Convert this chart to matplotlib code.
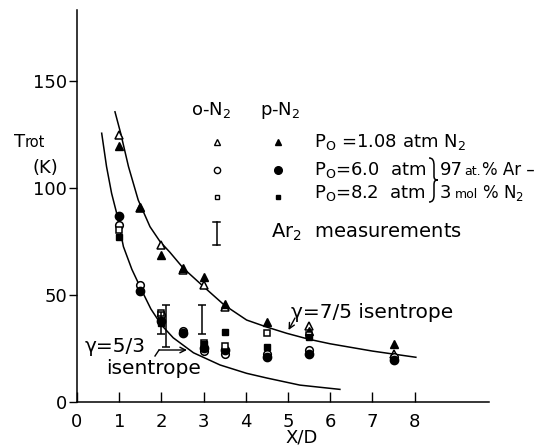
import matplotlib
matplotlib.use('Agg')
import matplotlib.pyplot as plt
from matplotlib.path import Path
from matplotlib.patches import PathPatch

plt.rcParams['font.family'] = ['DejaVu Sans']
plt.rcParams['mathtext.fontset'] = 'dejavusans'

# ---------------- data ----------------
x_otri = [1, 1.5, 2, 2.5, 3, 3.5, 5.5, 7.5]
y_otri = [124.7, 90.5, 73.4, 61.7, 54.7, 44.3, 35.3, 22.5]
x_ftri = [1, 1.5, 2, 2.5, 3, 3.5, 4.5, 5.5, 7.5]
y_ftri = [119.6, 91.3, 68.7, 62.5, 58.3, 45.9, 37.6, 33.0, 27.2]
x_circ = [1, 1.5, 2, 2.5, 3, 3.5, 4.5, 5.5, 7.5]
y_ocirc = [82.7, 54.7, 40.7, 33.0, 23.6, 22.4, 22.5, 24.4, 21.0]
y_fcirc = [86.9, 52.1, 38.0, 32.2, 25.2, 24.5, 21.0, 22.4, 19.8]
x_sq = [1, 2, 3, 3.5, 4.5, 5.5]
y_osq = [80.4, 41.5, 27.8, 26.0, 32.2, 31.5]
y_fsq = [77.3, 37.0, 27.0, 32.5, 25.5, 30.5]
x_ar2 = [2.0, 2.1, 2.96]
lo_ar2 = [32.0, 25.8, 31.6]
hi_ar2 = [42.2, 45.3, 45.3]

# gamma = 7/5 isentrope (upper curve)
x_g75 = [0.9, 1.035, 1.22, 1.45, 1.73, 1.97, 2.2, 2.52, 3.0, 3.49, 4.02, 4.5, 4.97, 5.5, 6.0, 7.0, 8.03]
y_g75 = [135.6, 125.6, 110.0, 94.4, 81.9, 74.9, 70.0, 62.5, 53.9, 45.3, 38.3, 35.0, 32.1, 29.3, 27.2, 23.8, 20.9]
# gamma = 5/3 isentrope (lower curve)
x_g53 = [0.585, 0.70, 0.82, 0.94, 1.10, 1.30, 1.55, 1.75, 2.0, 2.28, 2.76, 3.39, 4.02, 4.5, 5.28, 5.8, 6.23]
y_g53 = [125.6, 110.0, 97.5, 88.2, 72.6, 62.0, 51.5, 43.5, 36.0, 30.0, 23.0, 17.3, 13.4, 11.2, 7.9, 6.8, 5.9]

x_ticks = [0, 1, 2, 3, 4, 5, 6, 7, 8]
y_ticks = [0, 50, 100, 150]

# ---------------- figure ----------------
W, H = 544, 446
fig = plt.figure(figsize=(W / 100, H / 100), dpi=100)
L, R, B, T = 77, 489, 402, 10
ax = fig.add_axes([L / W, 1 - B / H, (R - L) / W, (B - T) / H])
ax.set_xlim(0, (R - L) / 42.2)
ax.set_ylim(0, (B - T) / 2.14)

for s in ['top', 'right']:
    ax.spines[s].set_visible(False)
for s in ['left', 'bottom']:
    ax.spines[s].set_linewidth(1.1)

ax.set_xticks(x_ticks)
ax.set_yticks(y_ticks)
ax.set_xticklabels([str(v) for v in x_ticks])
ax.set_yticklabels([str(v) for v in y_ticks])
ax.tick_params(axis='x', direction='in', length=7, width=1, pad=8, labelsize=13)
ax.tick_params(axis='y', direction='out', length=6, width=1, pad=1, labelsize=13)

lw = 1.1
ax.plot(x_g75, y_g75, color='black', lw=lw)
ax.plot(x_g53, y_g53, color='black', lw=lw)

ms = 5.5
ax.plot(x_otri, y_otri, ls='none', marker='^', ms=ms, mfc='white', mec='black', mew=1.1)
ax.plot(x_ftri, y_ftri, ls='none', marker='^', ms=ms, mfc='black', mec='black')
ax.plot(x_circ, y_ocirc, ls='none', marker='o', ms=ms, mfc='white', mec='black', mew=1.1)
ax.plot(x_circ, y_fcirc, ls='none', marker='o', ms=ms + 0.5, mfc='black', mec='black')
ax.plot(x_sq, y_osq, ls='none', marker='s', ms=ms - 1, mfc='white', mec='black', mew=1.1)
ax.plot(x_sq, y_fsq, ls='none', marker='s', ms=ms - 1, mfc='black', mec='black')

mid = [(a + b) / 2 for a, b in zip(lo_ar2, hi_ar2)]
err = [[m - a for m, a in zip(mid, lo_ar2)], [b - m for m, b in zip(mid, hi_ar2)]]
ax.errorbar(x_ar2, mid, yerr=err, fmt='none', ecolor='black', elinewidth=1.1, capsize=3, capthick=1.1)


def fp(px, py):
    return (px / W, 1 - py / H)


def axp(px, py):
    return ((px - L) / (R - L), (B - py) / (B - T))


# axis label texts
fig.text(*fp(14, 147), 'T', fontsize=13, ha='left', va='baseline')
fig.text(*fp(25, 147), 'rot', fontsize=10.5, ha='left', va='baseline')
fig.text(*fp(45, 168), '(K)', fontsize=13, ha='center', va='center')
fig.text(*fp(302, 443), 'X/D', fontsize=13, ha='center', va='baseline')

# legend block
fs = 13
fig.text(*fp(191, 115), 'o-N$_2$', fontsize=fs, ha='left', va='baseline')
fig.text(*fp(260, 115), 'p-N$_2$', fontsize=fs, ha='left', va='baseline')
ax.plot(*axp(216.7, 142), transform=ax.transAxes, marker='^', ms=4.5, mfc='white', mec='black', mew=1.0, clip_on=False)
ax.plot(*axp(278, 142), transform=ax.transAxes, marker='^', ms=4.5, mfc='black', mec='black', clip_on=False)
ax.plot(*axp(216.7, 170), transform=ax.transAxes, marker='o', ms=4.5, mfc='white', mec='black', mew=1.0, clip_on=False)
ax.plot(*axp(278, 170), transform=ax.transAxes, marker='o', ms=5.5, mfc='black', mec='black', clip_on=False)
ax.plot(*axp(216.7, 197), transform=ax.transAxes, marker='s', ms=3.5, mfc='white', mec='black', mew=1.0, clip_on=False)
ax.plot(*axp(278, 197), transform=ax.transAxes, marker='s', ms=3.5, mfc='black', mec='black', clip_on=False)
x0, y0 = axp(216.7, 222)
x1, y1 = axp(216.7, 245)
ax.plot([x0, x0], [y0, y1], transform=ax.transAxes, color='black', lw=1.1, clip_on=False)
ax.plot([x0 - 0.008, x0 + 0.008], [y0, y0], transform=ax.transAxes, color='black', lw=1.1, clip_on=False)
ax.plot([x0 - 0.008, x0 + 0.008], [y1, y1], transform=ax.transAxes, color='black', lw=1.1, clip_on=False)

fig.text(*fp(314, 147), 'P$_\\mathrm{O}$ =1.08 atm N$_2$', fontsize=fs, ha='left', va='baseline')
fig.text(*fp(314, 175), 'P$_\\mathrm{O}$=6.0  atm', fontsize=fs, ha='left', va='baseline')
fig.text(*fp(314, 198), 'P$_\\mathrm{O}$=8.2  atm', fontsize=fs, ha='left', va='baseline')

# curly brace joining the two Ar/N2 lines
bx = 5
bp = [(424, 158), (428, 158), (429, 161), (429, 166),
      (429, 176),
      (429, 179), (430, 180), (433, 180),
      (430, 180), (429, 181), (429, 185),
      (429, 195),
      (429, 199), (428, 202), (424, 202)]
codes = [Path.MOVETO, Path.CURVE4, Path.CURVE4, Path.CURVE4,
         Path.LINETO,
         Path.CURVE4, Path.CURVE4, Path.CURVE4,
         Path.CURVE4, Path.CURVE4, Path.CURVE4,
         Path.LINETO,
         Path.CURVE4, Path.CURVE4, Path.CURVE4]
brace = Path([fp(px + bx, py) for px, py in bp], codes)
fig.add_artist(PathPatch(brace, transform=fig.transFigure, fill=False, edgecolor='black', lw=1.1))

fig.text(*fp(440, 175), '97', fontsize=fs, ha='left', va='baseline')
fig.text(*fp(464, 175), 'at.', fontsize=9, ha='left', va='baseline')
fig.text(*fp(482, 175), '% Ar –', fontsize=12, ha='left', va='baseline')
fig.text(*fp(440, 198), '3', fontsize=fs, ha='left', va='baseline')
fig.text(*fp(455, 198), 'mol', fontsize=9, ha='left', va='baseline')
fig.text(*fp(482, 198), '% N$_2$', fontsize=12, ha='left', va='baseline')
fig.text(*fp(271, 238), 'Ar$_2$  measurements', fontsize=14, ha='left', va='baseline')

# curve labels
fig.text(*fp(291, 318), 'γ=7/5 isentrope', fontsize=14.5, ha='left', va='baseline')
ax.annotate('', xy=axp(288.5, 330), xycoords='axes fraction',
            xytext=axp(295, 318), textcoords='axes fraction',
            arrowprops=dict(arrowstyle='->', color='black', lw=1.0, shrinkA=0, shrinkB=0))
fig.text(*fp(85, 351.5), 'γ=5/3', fontsize=14.5, ha='left', va='baseline')
fig.text(*fp(106, 374), 'isentrope', fontsize=14.5, ha='left', va='baseline')
ax.plot(*zip(axp(155, 356), axp(159, 350)), transform=ax.transAxes, color='black', lw=1.0)
ax.annotate('', xy=axp(187, 350), xycoords='axes fraction',
            xytext=axp(159, 350), textcoords='axes fraction',
            arrowprops=dict(arrowstyle='->', color='black', lw=1.0, shrinkA=0, shrinkB=0))

fig.savefig('out.png', dpi=100)
